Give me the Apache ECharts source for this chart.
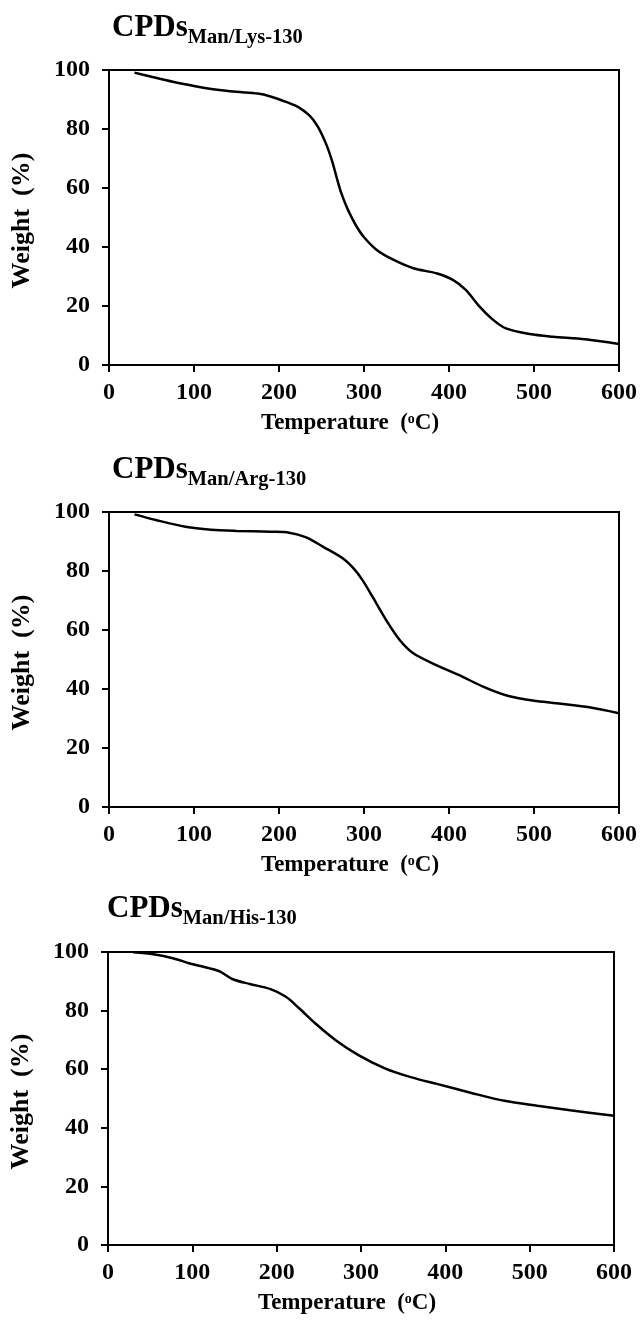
<!DOCTYPE html>
<html>
<head>
<meta charset="utf-8">
<script src="https://cdn.jsdelivr.net/npm/echarts@6/dist/echarts.min.js"></script>
<style>
html,body{margin:0;padding:0;background:#fff;}
#chart{width:640px;height:1320px;}
</style>
</head>
<body>
<div id="chart"></div>
<script>
// ---- data ----
const titleMain = 'CPDs';
const titleSubs = ['Man/Lys-130', 'Man/Arg-130', 'Man/His-130'];

const lysTemp = [30, 50, 75, 100, 125, 150, 175, 190, 210, 220, 228, 235, 240, 246, 252, 258, 263, 268, 273, 279, 285, 292, 300, 315, 335, 358, 385, 405, 420, 436, 452, 467, 495, 522, 560, 600];
const lysWeight = [99.1, 97.7, 96.0, 94.6, 93.4, 92.6, 92.0, 91.0, 89.0, 87.8, 86.4, 84.8, 83.2, 80.6, 77.2, 73.0, 68.6, 63.4, 58.5, 54.0, 50.3, 46.6, 43.3, 39.0, 35.6, 32.8, 31.1, 28.8, 25.4, 19.8, 15.3, 12.4, 10.5, 9.6, 8.7, 7.1];

const argTemp = [30, 55, 90, 120, 150, 190, 212, 232, 252, 275, 288, 298, 310, 326, 342, 358, 385, 412, 440, 470, 503, 534, 565, 600];
const argWeight = [99.2, 97.3, 95.0, 94.0, 93.6, 93.3, 93.0, 91.4, 88.2, 84.3, 80.8, 77.0, 71.3, 63.4, 56.6, 52.1, 48.1, 44.7, 40.8, 37.6, 35.9, 34.9, 33.8, 31.8];

const hisTemp = [30, 54, 78, 97, 121, 133, 148, 168, 192, 211, 227, 246, 270, 297, 329, 360, 391, 431, 470, 509, 548, 600];
const hisWeight = [99.9, 99.2, 97.8, 96.1, 94.4, 93.3, 90.7, 89.1, 87.4, 84.7, 80.7, 75.6, 69.9, 64.8, 60.2, 57.2, 54.9, 51.9, 49.2, 47.5, 46.0, 44.1];

const xTicks = [0, 100, 200, 300, 400, 500, 600];
const yTicks = [0, 20, 40, 60, 80, 100];
const xName = 'Temperature  ({sup|o}C)';
const yName = 'Weight  (%)';

// ---- layout ----
const FONT = 'Liberation Serif, Times New Roman, serif';
const grids = [
  {left: 109, right: 21, top: 70, height: 295},
  {left: 109, right: 21, top: 512, height: 295},
  {left: 104, right: 26, top: 952, height: 293}
];
const titlePos = [{left: 112, top: 12}, {left: 112, top: 454}, {left: 107, top: 893}];
const seriesData = [
  lysTemp.map((t, i) => [t, lysWeight[i]]),
  argTemp.map((t, i) => [t, argWeight[i]]),
  hisTemp.map((t, i) => [t, hisWeight[i]])
];

const option = {
  backgroundColor: '#fff',
  animation: false,
  title: titleSubs.map((s, i) => ({
    text: '{a|' + titleMain + '}{b|' + s + '}',
    left: titlePos[i].left,
    top: titlePos[i].top,
    padding: 0,
    textStyle: {
      rich: {
        a: {fontSize: 31, lineHeight: 31, fontWeight: 'bold', fontFamily: FONT, color: '#000', verticalAlign: 'top'},
        b: {fontSize: 20.5, lineHeight: 20.5, fontWeight: 'bold', fontFamily: FONT, color: '#000', verticalAlign: 'top', padding: [15, 0, 0, 0]}
      }
    }
  })),
  grid: grids.map(g => Object.assign({show: true, borderColor: '#000', borderWidth: 2, containLabel: false}, g)),
  xAxis: grids.map((g, i) => ({
    type: 'value', gridIndex: i, min: xTicks[0], max: xTicks[xTicks.length - 1], interval: 100,
    name: xName, nameLocation: 'middle', nameGap: 47,
    nameTextStyle: {fontSize: 23, fontWeight: 'bold', fontFamily: FONT, color: '#000', padding: [0, 28, 0, 0],
      rich: {sup: {fontSize: 14, fontWeight: 'bold', fontFamily: FONT, color: '#000', lineHeight: 14, verticalAlign: 'top', padding: [0, 0, 12, 0]}}},
    axisLine: {show: true, lineStyle: {color: '#000', width: 2}},
    axisTick: {show: true, inside: false, length: 7, lineStyle: {color: '#000', width: 2}},
    axisLabel: {fontSize: 24, fontWeight: 'bold', fontFamily: FONT, color: '#000', margin: 16},
    splitLine: {show: false}
  })),
  yAxis: grids.map((g, i) => ({
    type: 'value', gridIndex: i, min: yTicks[0], max: yTicks[yTicks.length - 1], interval: 20,
    name: yName, nameLocation: 'middle', nameGap: 74,
    nameTextStyle: {fontSize: 26, fontWeight: 'bold', fontFamily: FONT, color: '#000', padding: [0, 6, 0, 0]},
    axisLine: {show: true, lineStyle: {color: '#000', width: 2}},
    axisTick: {show: true, inside: false, length: 7, lineStyle: {color: '#000', width: 2}},
    axisLabel: {fontSize: 24, fontWeight: 'bold', fontFamily: FONT, color: '#000', margin: 19},
    splitLine: {show: false}
  })),
  series: seriesData.map((d, i) => ({
    type: 'line', xAxisIndex: i, yAxisIndex: i, data: d,
    smooth: 0.3, showSymbol: false, symbol: 'none',
    lineStyle: {color: '#000', width: 2.5}
  }))
};

const chart = echarts.init(document.getElementById('chart'), null, {renderer: 'canvas'});
chart.setOption(option);
</script>
</body>
</html>
